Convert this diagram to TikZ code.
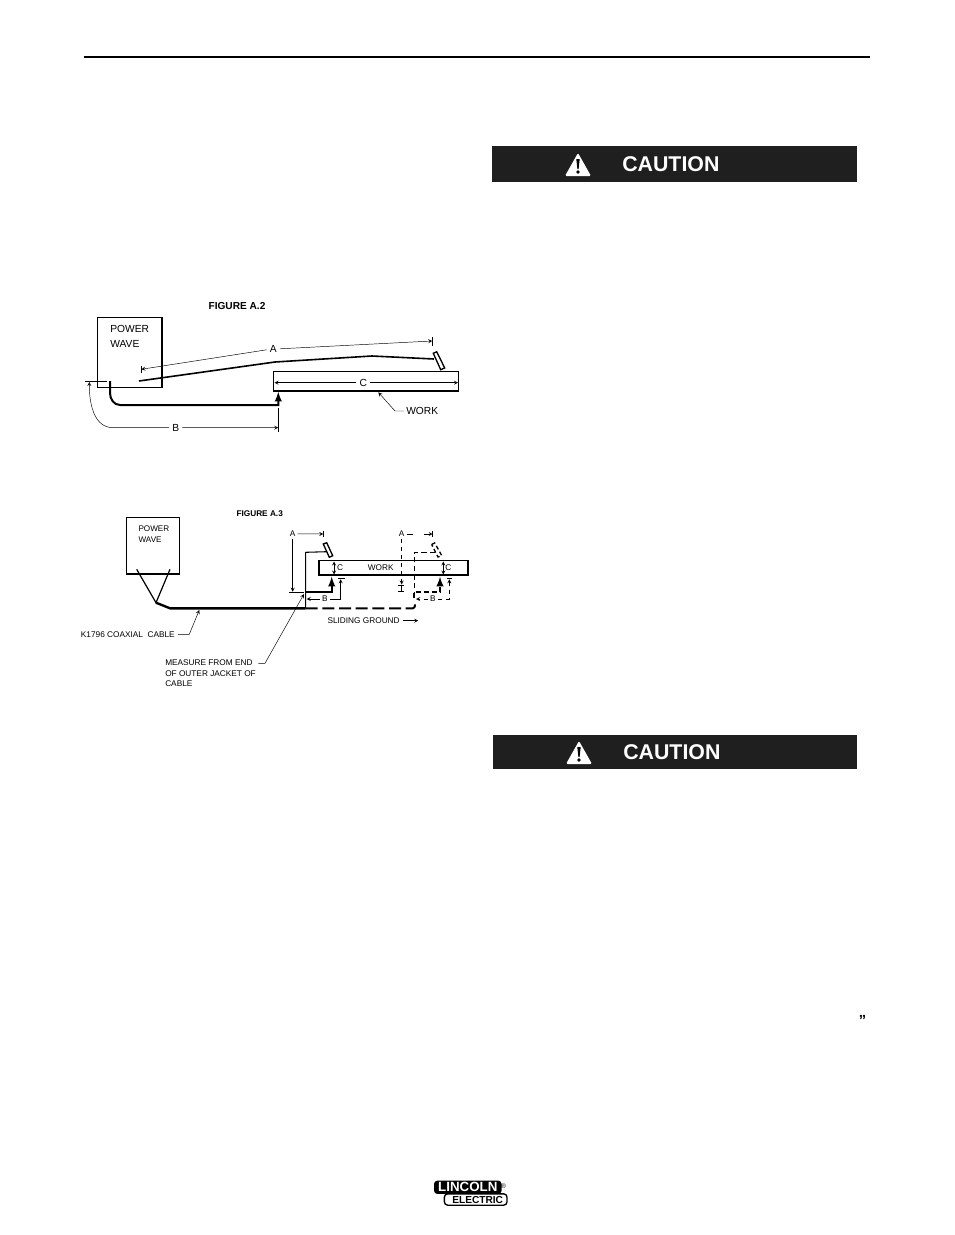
\documentclass[tikz,border=0pt]{standalone}
\usepackage{fontspec}
\setmainfont{Liberation Sans}
\usetikzlibrary{arrows,calc}
\tikzset{
  biglabel/.style={inner sep=0pt,font=\fontsize{7.7}{11.25}\selectfont,align=left},
  smalllabel/.style={inner sep=0pt,font=\fontsize{6.2}{7.9}\selectfont,align=left},
  figtitle/.style={inner sep=0pt,font=\bfseries},
  dim/.style={line width=0.35pt},
  cable/.style={line width=1.5pt},
  ground/.style={line width=1.5pt},
  torch/.style={line width=1pt,fill=white},
  cautionbar/.style={fill=black!88,draw=none},
  cautiontext/.style={inner sep=0pt,text=white,font=\fontsize{16}{18}\selectfont\bfseries,anchor=west}
}
\begin{document}
\begin{tikzpicture}[x=0.75pt,y=-0.75pt,>=stealth]
\useasboundingbox (0,0) rectangle (954,1235);
% draw header rule
\draw[line width=1.6pt] (84,57) -- (870,57);
% draw caution bars
\foreach \xa/\ya/\yb/\ym in {492/146/182/164,493/735/769/752}
{
\fill[cautionbar] (\xa,\ya) rectangle (857,\yb);
\fill[white,rounded corners=1pt] (\xa+73,\ym+12) -- (\xa+73+13,\ym-11) -- (\xa+73+26,\ym+12) -- cycle;
\fill[black] (\xa+73+11.3,\ym-5) -- (\xa+73+14.7,\ym-5) -- (\xa+73+13.6,\ym+5) -- (\xa+73+12.4,\ym+5) -- cycle;
\fill[black] (\xa+73+13,\ym+8) circle (1.8);
}
\node[cautiontext] (cautionone) at (622,164) {CAUTION};
\node[cautiontext] (cautiontwo) at (623,752) {CAUTION};
% draw figure A.2
\node[figtitle,font=\fontsize{7.6}{9}\selectfont\bfseries] (titlea) at (237,306) {FIGURE A.2};
\draw[line width=1pt] (97.7,317.7) rectangle (162,387.7);
\node[biglabel,anchor=west] (powera) at (110,336.8) {POWER\\WAVE};
\draw[line width=1pt] (273.7,371.3) rectangle (458.3,391);
% electrode cable and torch
\coordinate (tipa) at (434,359);
\draw[cable,line width=1.2pt] (139,381) -- (275,362) -- (372,356) -- (tipa);
\draw[torch] (433.3,353.3) -- (436.7,351.7) -- (444.7,368) -- (440.7,369.7) -- cycle;
% work cable
\coordinate (groundA) at (278.3,391.7);
\draw[cable,-latex] (110,381) -- (110,393) to[out=270,in=180] (120,405) -- (278.3,405) -- (groundA);
% dimension A
\node[biglabel] (dima) at (273.3,349.3) {A};
\draw[dim] (141.3,366) -- (141.3,373.3);
\draw[dim] (432.3,337.3) -- (432.3,346);
\draw[dim,->] (dima.west) ++(-3,0.5) -- (141.3,369.3);
\draw[dim,->] (dima.east) ++(3,-0.5) -- (432.3,341);
% dimension C
\node[biglabel] (dimc) at (363.3,382.7) {C};
\draw[dim,->] (dimc.west) ++(-3,0) -- (274.5,382.7);
\draw[dim,->] (dimc.east) ++(3,0) -- (458,382.7);
% dimension B
\node[biglabel] (dimb) at (175.7,428) {B};
\draw[dim] (278.3,408) -- (278.3,431.7);
\draw[dim] (85,381) -- (106.7,381);
\draw[dim,->] (dimb.east) ++(3,-0.3) -- (278.3,427.7);
\draw[dim,->] (dimb.west) ++(-3,-0.3) -- (113.3,427.7) to[out=180,in=270] (89.3,382);
% work leader
\node[biglabel,anchor=west] (worka) at (406,411) {WORK};
\draw[dim,->] (worka.west) ++(-2,0) -- (395,411) -- (378.3,392.3);
% draw figure A.3
\node[figtitle,font=\fontsize{6.2}{8}\selectfont\bfseries] (titleb) at (259.7,513.3) {FIGURE A.3};
\draw[line width=1pt] (126.7,517.3) rectangle (179.3,574);
\node[smalllabel,anchor=west,font=\fontsize{6.1}{8.25}\selectfont] (powerb) at (138.3,533.8) {POWER\\WAVE};
\draw[line width=0.9pt] (136.7,569.3) -- (156,602.7) -- (170,569.3);
\draw[cable,line width=1.8pt] (156,602.7) -- (170,608.3) -- (305.7,608.3);
\draw[line width=1pt] (319,560.7) rectangle (468,575);
\node[smalllabel] (workb) at (380.7,567.3) {WORK};
% solid position
\draw[line width=0.8pt] (326.7,551.7) -- (305.7,552.3) -- (305.7,608.3);
\draw[torch] (323.3,544) -- (326.7,542.7) -- (332.7,555.7) -- (329.3,557.3) -- cycle;
\draw[ground,-latex] (305.7,591.7) -- (331.7,591.7) -- (331.7,576.7);
\draw[dim,<->] (334,561.5) -- (334,574.5);
\node[smalllabel] (clefta) at (340,567.3) {C};
% dashed position
\draw[ground,dash pattern=on 9pt off 3.5pt] (305.7,608.3) -- (413,608.3) to[out=0,in=270] (415,604) -- (415,600);
\draw[ground,dash pattern=on 3.6pt off 2.4pt] (414,598) -- (414,591.7) -- (440,591.7) -- (440,584);
\draw[ground,-latex] (440,582) -- (440,576.7);
\draw[line width=0.7pt,dash pattern=on 4pt off 2.5pt] (414,597) -- (414,552.3) -- (436,552.3);
\draw[line width=1pt,fill=white,densely dashed] (431.7,544.5) -- (434.7,543) -- (441.7,555.5) -- (438,557) -- cycle;
\draw[dim,<->] (443.3,561.5) -- (443.3,574.5);
\node[smalllabel] (cright) at (448.3,567.3) {C};
% dimension A left
\node[smalllabel] (dimal) at (292.7,533.3) {A};
\draw[dim] (323.3,530.7) -- (323.3,536.7);
\draw[dim,->] (dimal.east) ++(2,0.5) -- (323.3,534);
\draw[dim,->] (dimal.south) ++(0,3) -- (292.7,591.7);
\draw[dim] (289.3,592.3) -- (304,592.3);
% dimension B left
\node[smalllabel] (dimbl) at (325,599) {B};
\draw[dim,->] (dimbl.west) ++(-2,0) -- (306.7,599);
\draw[dim,->] (dimbl.east) ++(2,0) -- (340.7,599) -- (340.7,579.3);
\draw[dim] (338.3,578.3) -- (345,578.3);
% dimension A right
\node[smalllabel] (dimar) at (401.7,533.3) {A};
\draw[dim] (dimar.east) ++(2,0.5) -- ++(6,0);
\draw[dim,->] (424,534) -- (432.7,534);
\draw[dim] (432.7,530.7) -- (432.7,536.7);
\draw[dim,dashed,->] (dimar.south) ++(0,3) -- (401.7,584.5);
\foreach \y in {585,591.7}
\draw[dim] (398.3,\y) -- (403.7,\y);
\draw[dim] (401,585) -- (401,591.7);
% dimension B right
\node[smalllabel] (dimbr) at (433,599) {B};
\draw[dim,dashed,->] (dimbr.west) ++(-2,0) -- (416,599);
\draw[dim,dashed,->] (dimbr.east) ++(2,0) -- (449.3,599) -- (449.3,579.3);
\draw[dim] (446.7,578.3) -- (451.7,578.3);
% sliding ground
\node[smalllabel,anchor=west] (sliding) at (327.3,620.7) {SLIDING GROUND};
\draw[dim,->] (403.3,620.7) -- (418.3,620.7);
% leaders
\node[smalllabel,anchor=west] (coax) at (80.7,634.3) {K1796 COAXIAL\ \ CABLE};
\draw[dim,->] (coax.east) ++(3,0) -- (189.3,634.3) -- (199.3,610);
\node[smalllabel,anchor=west] (measure) at (165,673.5) {MEASURE FROM END\\OF OUTER JACKET OF\\CABLE};
\draw[dim,->] (258.3,663.3) -- (265,663.3) -- (304,594);
% draw closing quote
\node[inner sep=0pt,font=\fontsize{11}{12}\selectfont\bfseries] (quote) at (862.5,1020) {”};
% draw logo
\node[fill=white,draw=black,line width=1pt,rounded corners=2.5pt,minimum width=47pt,minimum height=8.5pt,inner sep=0pt,text=black,font=\fontsize{7.6}{8}\selectfont\bfseries] (electric) at (475.7,1199.5) {\hspace*{3pt}ELECTRIC};
\node[fill=black,rounded corners=2.5pt,minimum width=50.7pt,minimum height=10pt,inner sep=0pt,text=white,font=\fontsize{10}{11}\selectfont\bfseries] (lincoln) at (467.8,1187.3) {LINCOLN};
\node[inner sep=0pt,font=\fontsize{5}{6}\selectfont] (regmark) at (503.5,1186.5) {®};
\end{tikzpicture}
\end{document}
